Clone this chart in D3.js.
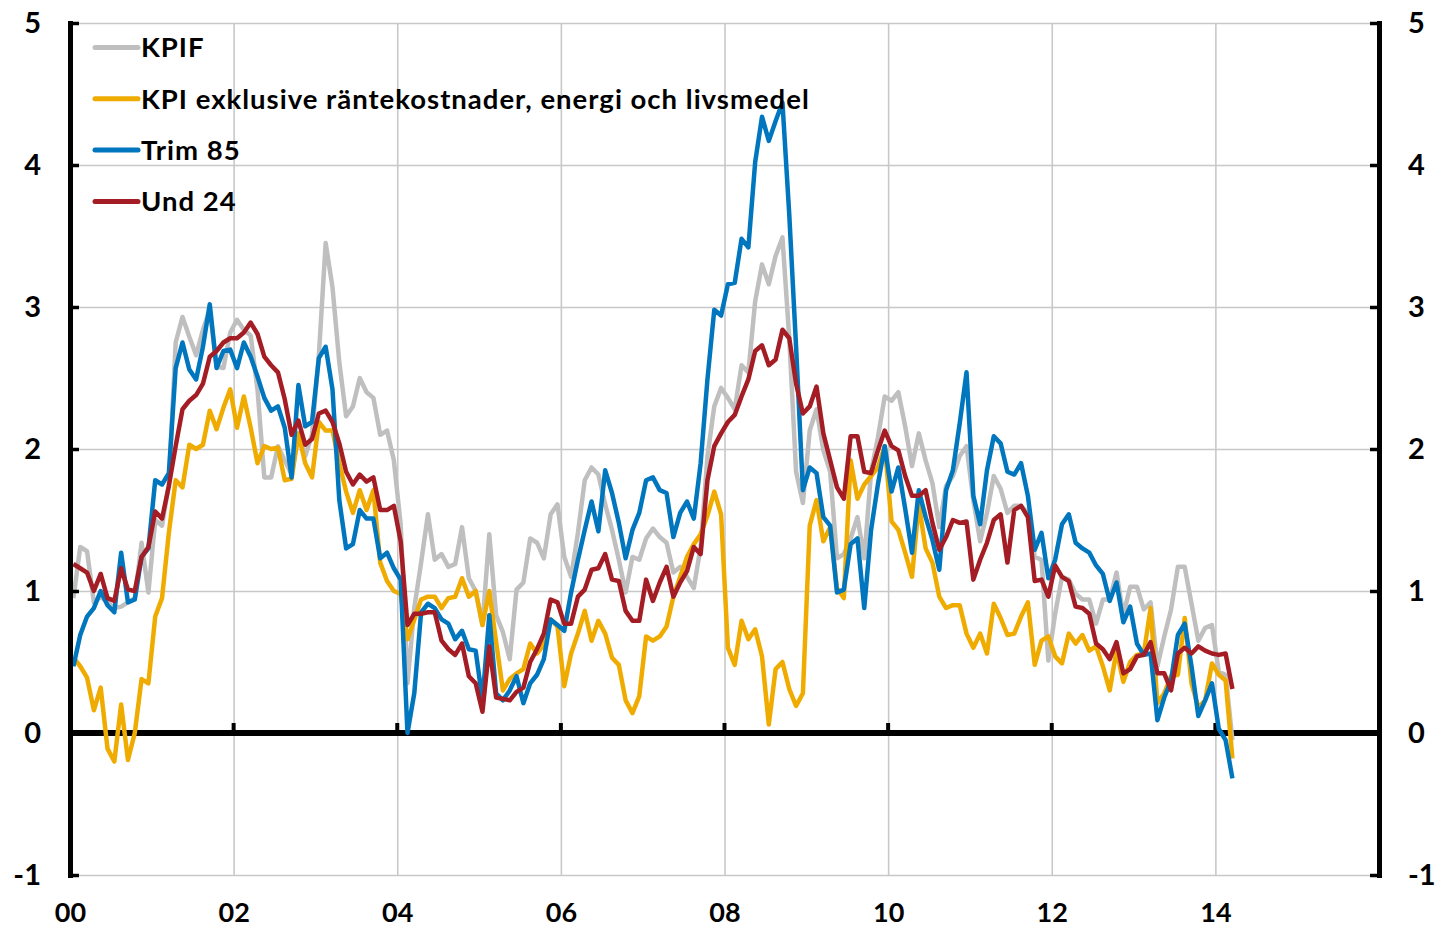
<!DOCTYPE html>
<html>
<head>
<meta charset="utf-8">
<script src="https://cdn.jsdelivr.net/npm/d3@7/dist/d3.min.js"></script>
<style>
  body { margin: 0; background: #fff; }
  svg text { font-family: Lato, "Open Sans", sans-serif; font-weight: bold; fill: #000; }
</style>
</head>
<body>
<div id="chart"></div>
<script>
// Monthly series, Jan 2000 - Mar 2014 (annual percentage change)
var startYear = 2000;

var kpif = [
  0.95, 1.31, 1.28, 0.92, 0.96, 0.92, 0.88, 0.89, 0.92, 0.95, 1.34, 0.99,
  1.50, 1.46, 1.75, 2.75, 2.93, 2.79, 2.66, 2.84, 2.98, 2.58, 2.57, 2.82,
  2.91, 2.84, 2.80, 2.42, 1.80, 1.80, 2.02, 1.92, 1.82, 2.10, 1.95, 2.10,
  2.66, 3.45, 3.14, 2.61, 2.23, 2.30, 2.50, 2.40, 2.36, 2.10, 2.13, 1.92,
  1.47, 0.35, 0.88, 1.20, 1.54, 1.22, 1.26, 1.17, 1.19, 1.45, 1.09, 1.00,
  0.76, 1.40, 0.83, 0.71, 0.52, 1.01, 1.06, 1.37, 1.34, 1.23, 1.54, 1.61,
  1.24, 1.10, 1.41, 1.78, 1.87, 1.82, 1.61, 1.43, 1.22, 0.99, 1.24, 1.22,
  1.37, 1.44, 1.38, 1.34, 1.13, 1.17, 1.10, 1.02, 1.31, 1.95, 2.30, 2.43,
  2.36, 2.28, 2.59, 2.54, 3.04, 3.30, 3.16, 3.36, 3.49, 2.78, 1.84, 1.62,
  2.13, 2.28, 1.99, 1.84, 1.23, 1.26, 1.37, 1.52, 1.23, 1.84, 2.08, 2.37,
  2.34, 2.40, 2.16, 1.88, 2.11, 1.92, 1.76, 1.45, 1.74, 1.81, 1.95, 2.02,
  1.64, 1.35, 1.55, 1.81, 1.72, 1.55, 1.60, 1.60, 1.55, 1.24, 1.22, 0.51,
  0.84, 1.10, 1.08, 0.98, 0.94, 0.94, 0.77, 0.94, 0.94, 1.13, 0.83, 1.03,
  1.03, 0.87, 0.92, 0.47, 0.68, 0.87, 1.17, 1.17, 0.91, 0.65, 0.74, 0.76,
  0.43, 0.41, -0.05
];

var kpix = [
  0.53, 0.47, 0.39, 0.16, 0.32, -0.11, -0.20, 0.20, -0.19, 0.00, 0.38, 0.35,
  0.82, 0.95, 1.41, 1.78, 1.73, 2.03, 2.00, 2.03, 2.27, 2.14, 2.29, 2.42,
  2.15, 2.37, 2.15, 1.90, 2.02, 2.00, 2.01, 1.78, 1.79, 2.11, 1.90, 1.80,
  2.19, 2.13, 2.13, 1.90, 1.70, 1.55, 1.71, 1.57, 1.71, 1.20, 1.07, 1.00,
  0.98, 0.66, 0.80, 0.94, 0.96, 0.96, 0.88, 0.95, 0.96, 1.09, 0.96, 1.00,
  0.76, 1.00, 0.64, 0.30, 0.38, 0.42, 0.45, 0.63, 0.56, 0.62, 0.80, 0.75,
  0.33, 0.56, 0.70, 0.86, 0.65, 0.79, 0.70, 0.53, 0.48, 0.23, 0.14, 0.26,
  0.68, 0.65, 0.68, 0.75, 0.96, 1.10, 1.24, 1.33, 1.40, 1.53, 1.70, 1.54,
  0.60, 0.48, 0.79, 0.66, 0.73, 0.54, 0.06, 0.45, 0.50, 0.31, 0.19, 0.28,
  1.46, 1.64, 1.35, 1.45, 1.02, 0.95, 1.92, 1.65, 1.75, 1.81, 1.87, 2.02,
  1.49, 1.43, 1.27, 1.10, 1.61, 1.30, 1.20, 0.96, 0.88, 0.90, 0.90, 0.70,
  0.60, 0.70, 0.56, 0.91, 0.81, 0.69, 0.70, 0.82, 0.92, 0.48, 0.65, 0.68,
  0.54, 0.49, 0.70, 0.63, 0.69, 0.58, 0.61, 0.47, 0.30, 0.58, 0.36, 0.50,
  0.55, 0.56, 0.88, 0.21, 0.28, 0.40, 0.41, 0.81, 0.35, 0.18, 0.23, 0.49,
  0.41, 0.37, -0.18
];

var trim85 = [
  0.47, 0.69, 0.82, 0.88, 1.00, 0.90, 0.85, 1.27, 0.92, 0.94, 1.24, 1.30,
  1.78, 1.75, 1.83, 2.57, 2.75, 2.56, 2.49, 2.72, 3.02, 2.57, 2.69, 2.70,
  2.57, 2.75, 2.65, 2.51, 2.36, 2.27, 2.30, 2.15, 1.80, 2.45, 2.16, 2.19,
  2.64, 2.72, 2.42, 1.64, 1.30, 1.33, 1.57, 1.51, 1.51, 1.23, 1.27, 1.16,
  1.08, 0.00, 0.28, 0.85, 0.91, 0.88, 0.80, 0.77, 0.66, 0.72, 0.59, 0.58,
  0.23, 0.83, 0.28, 0.23, 0.30, 0.40, 0.21, 0.35, 0.41, 0.52, 0.80, 0.76,
  0.72, 0.99, 1.22, 1.43, 1.63, 1.42, 1.85, 1.69, 1.48, 1.23, 1.43, 1.55,
  1.78, 1.80, 1.71, 1.69, 1.38, 1.55, 1.63, 1.51, 1.90, 2.49, 2.98, 2.94,
  3.16, 3.17, 3.48, 3.42, 4.02, 4.34, 4.17, 4.31, 4.44, 3.65, 2.72, 1.71,
  1.87, 1.83, 1.52, 1.46, 0.99, 1.01, 1.33, 1.37, 0.88, 1.43, 1.75, 2.02,
  1.70, 1.87, 1.58, 1.27, 1.71, 1.52, 1.36, 1.15, 1.71, 1.85, 2.18, 2.54,
  1.67, 1.47, 1.85, 2.09, 2.04, 1.84, 1.82, 1.90, 1.67, 1.29, 1.41, 1.09,
  1.22, 1.47, 1.54, 1.34, 1.30, 1.27, 1.18, 1.12, 0.93, 1.06, 0.78, 0.89,
  0.63, 0.55, 0.56, 0.09, 0.25, 0.37, 0.69, 0.77, 0.47, 0.12, 0.23, 0.35,
  0.03, -0.05, -0.32
];

var und24 = [
  1.19, 1.16, 1.13, 1.00, 1.12, 0.95, 0.93, 1.16, 1.01, 1.00, 1.24, 1.31,
  1.56, 1.51, 1.74, 2.02, 2.28, 2.34, 2.38, 2.46, 2.65, 2.69, 2.75, 2.78,
  2.78, 2.82, 2.89, 2.81, 2.65, 2.59, 2.54, 2.35, 2.10, 2.20, 2.03, 2.07,
  2.25, 2.27, 2.19, 2.04, 1.84, 1.75, 1.82, 1.77, 1.80, 1.57, 1.57, 1.60,
  1.35, 0.76, 0.84, 0.84, 0.85, 0.85, 0.65, 0.59, 0.55, 0.63, 0.40, 0.35,
  0.15, 0.61, 0.25, 0.24, 0.23, 0.29, 0.32, 0.50, 0.59, 0.70, 0.94, 0.92,
  0.77, 0.77, 0.96, 1.01, 1.15, 1.16, 1.26, 1.08, 1.07, 0.86, 0.79, 0.79,
  1.08, 0.93, 1.06, 1.17, 0.96, 1.06, 1.14, 1.31, 1.26, 1.78, 2.02, 2.11,
  2.19, 2.24, 2.37, 2.49, 2.69, 2.73, 2.59, 2.63, 2.84, 2.78, 2.46, 2.25,
  2.30, 2.44, 2.11, 1.92, 1.73, 1.65, 2.09, 2.09, 1.84, 1.83, 1.99, 2.13,
  2.02, 1.99, 1.81, 1.67, 1.67, 1.71, 1.48, 1.29, 1.38, 1.50, 1.48, 1.49,
  1.08, 1.22, 1.34, 1.50, 1.54, 1.20, 1.57, 1.60, 1.52, 1.07, 1.08, 0.96,
  1.18, 1.10, 1.07, 0.89, 0.88, 0.84, 0.63, 0.59, 0.52, 0.64, 0.42, 0.45,
  0.54, 0.55, 0.64, 0.42, 0.42, 0.30, 0.56, 0.60, 0.56, 0.61, 0.58, 0.56,
  0.55, 0.56, 0.31
];

var seriesNames = ["KPIF", "KPI exklusive räntekostnader, energi och livsmedel", "Trim 85", "Und 24"];
var seriesColors = ["#bfbfbf", "#f0ab00", "#0076be", "#a51d24"];
var seriesValues = [kpif, kpix, trim85, und24];

var yTicks = [-1, 0, 1, 2, 3, 4, 5];
var yTickLabels = ["-1", "0", "1", "2", "3", "4", "5"];
var xTicks = [2000, 2002, 2004, 2006, 2008, 2010, 2012, 2014, 2016];
var xTickLabels = ["00", "02", "04", "06", "08", "10", "12", "14", ""];

// SVG area and margins
var svgWidth = 1441;
var svgHeight = 929;

var chartMargin = {
  top: 23,
  right: 62,
  bottom: 54,
  left: 70
};

var chartWidth = svgWidth - chartMargin.left - chartMargin.right;
var chartHeight = svgHeight - chartMargin.top - chartMargin.bottom;

var svg = d3.select("#chart")
  .append("svg")
  .attr("width", svgWidth)
  .attr("height", svgHeight);

var chartGroup = svg.append("g")
  .attr("transform", `translate(${chartMargin.left}, ${chartMargin.top})`);

var xScale = d3.scaleLinear()
  .domain([2000, 2016])
  .range([0, chartWidth]);

var yScale = d3.scaleLinear()
  .domain([-1, 5])
  .range([chartHeight, 0]);

// gridlines
var xGrid = chartGroup.append("g")
  .attr("transform", `translate(0, ${chartHeight})`)
  .call(d3.axisBottom(xScale).tickValues(xTicks).tickSize(-chartHeight).tickFormat(""));

var yGrid = chartGroup.append("g")
  .call(d3.axisLeft(yScale).tickValues(yTicks).tickSize(-chartWidth).tickFormat(""));

[xGrid, yGrid].forEach(function(g) {
  g.select(".domain").remove();
  g.selectAll("line").attr("stroke", "#c8c8c8").attr("stroke-width", 1.6);
});

// zero line with small upward ticks
chartGroup.append("line")
  .attr("x1", 0)
  .attr("x2", chartWidth)
  .attr("y1", yScale(0))
  .attr("y2", yScale(0))
  .attr("stroke", "#000")
  .attr("stroke-width", 6);

chartGroup.append("g")
  .selectAll("line")
  .data(xTicks)
  .enter()
  .append("line")
  .attr("x1", d => xScale(d))
  .attr("x2", d => xScale(d))
  .attr("y1", yScale(0))
  .attr("y2", yScale(0) - 10)
  .attr("stroke", "#000")
  .attr("stroke-width", 4);

// series lines
var line = d3.line()
  .x((d, i) => xScale(startYear + (i + 0.5) / 12))
  .y(d => yScale(d));

chartGroup.selectAll(".series")
  .data(seriesValues)
  .enter()
  .append("path")
  .attr("class", "series")
  .attr("d", d => line(d))
  .attr("fill", "none")
  .attr("stroke", (d, i) => seriesColors[i])
  .attr("stroke-width", 4.5)
  .attr("stroke-linejoin", "round");

// y axes on both sides, ticks pointing inward
var leftAxis = chartGroup.append("g")
  .call(d3.axisLeft(yScale).tickValues(yTicks).tickSize(-9).tickSizeOuter(0).tickPadding(29)
    .tickFormat((d, i) => yTickLabels[i]));

var rightAxis = chartGroup.append("g")
  .attr("transform", `translate(${chartWidth}, 0)`)
  .call(d3.axisRight(yScale).tickValues(yTicks).tickSize(-9).tickSizeOuter(0).tickPadding(29)
    .tickFormat((d, i) => yTickLabels[i]));

[leftAxis, rightAxis].forEach(function(g) {
  g.select(".domain").attr("stroke", "#000").attr("stroke-width", 5).attr("stroke-linecap", "square");
  g.selectAll(".tick line").attr("stroke", "#000").attr("stroke-width", 3.5);
  g.selectAll("text").style("font-size", "29px");
});

// x labels
var bottomAxis = chartGroup.append("g")
  .attr("transform", `translate(0, ${chartHeight})`)
  .call(d3.axisBottom(xScale).tickValues(xTicks).tickSize(0).tickPadding(28)
    .tickFormat((d, i) => xTickLabels[i]));

bottomAxis.select(".domain").remove();
bottomAxis.selectAll("text").style("font-size", "27px");

// legend
var legend = chartGroup.append("g")
  .selectAll("g")
  .data(seriesNames)
  .enter()
  .append("g")
  .attr("transform", (d, i) => `translate(0, ${24.5 + i * 51.3})`);

legend.append("line")
  .attr("x1", 25)
  .attr("x2", 68)
  .attr("stroke", (d, i) => seriesColors[i])
  .attr("stroke-width", 5)
  .attr("stroke-linecap", "round");

legend.append("text")
  .attr("x", 71)
  .attr("dy", "0.36em")
  .style("font-size", "27.5px")
  .style("letter-spacing", "1px")
  .text(d => d);
</script>
</body>
</html>
